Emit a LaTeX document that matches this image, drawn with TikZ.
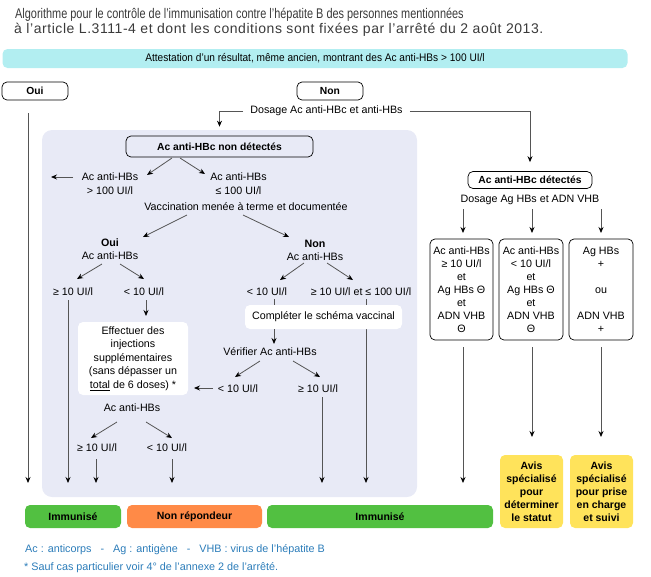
\documentclass[tikz,border=0pt]{standalone}
\usepackage{fontspec}
\setmainfont{Liberation Sans}
\newfontfamily\titlefont[FakeStretch=0.78]{Liberation Sans}
\newfontfamily\spacedfont[LetterSpace=4.0]{Liberation Sans}
\newfontfamily\condfont[FakeStretch=0.92]{Liberation Sans}
\usetikzlibrary{positioning,arrows.meta}
\definecolor{hbpanel}{HTML}{E8EAF6}
\definecolor{hbcyan}{HTML}{B2EEF1}
\definecolor{hbgreen}{HTML}{52C041}
\definecolor{hborange}{HTML}{FF8A47}
\definecolor{hbyellow}{HTML}{FFE35B}
\definecolor{hbblue}{HTML}{2B7CB9}
\definecolor{hbtitle}{HTML}{3A3A3A}
\definecolor{hbline}{HTML}{555555}

\begin{document}
\begin{tikzpicture}[x=1pt, y=-1pt,
   lbl/.style={align=center, inner sep=1pt, font=\fontsize{10.7}{14}\selectfont},
   decision/.style={draw, rounded corners=5pt, line width=0.7pt, fill=hbpanel,
                    inner sep=0pt, font=\fontsize{10.3}{12}\selectfont\bfseries},
   answer/.style={draw, rounded corners=5pt, line width=0.7pt, fill=white, minimum width=66pt,
                  minimum height=18pt, inner sep=0pt, font=\fontsize{10.3}{12}\selectfont\bfseries},
   note/.style={fill=white, rounded corners=5pt, align=center, inner sep=0pt,
                font=\fontsize{10.7}{13.5}\selectfont},
   casebox/.style={draw, rounded corners=5pt, line width=0.7pt, minimum width=64pt, minimum height=101pt,
                   inner sep=0pt, align=center, font=\fontsize{10.7}{13}\selectfont},
   result/.style={rounded corners=5pt, minimum height=23pt, inner sep=0pt,
                  font=\fontsize{10.5}{13}\selectfont\bfseries},
   avis/.style={fill=hbyellow, rounded corners=5pt, minimum width=63pt, minimum height=73pt,
                inner sep=0pt, align=center, font=\fontsize{10.5}{13}\selectfont\bfseries},
   flow/.style={->, draw=hbline, line width=0.8pt},
   >={Stealth[length=6pt, width=5pt, color=black]}]
  \useasboundingbox (0,0) rectangle (651,576);

  % heading
  \node[anchor=base west, inner sep=0pt, text=hbtitle, font=\fontsize{14}{16}\titlefont] (title1) at (15,18.3)
    {Algorithme pour le contrôle de l’immunisation contre l’hépatite B des personnes mentionnées};
  \node[anchor=base west, inner sep=0pt, text=hbtitle, font=\fontsize{14}{16}\spacedfont] (title2) at (14,33.5)
    {à l’article L.3111-4 et dont les conditions sont fixées par l’arrêté du 2 août 2013.};
  \node[fill=hbcyan, rounded corners=5pt, minimum width=625pt, minimum height=19pt, inner sep=0pt,
        font=\fontsize{11}{13}\condfont] (attest) at (315,58.5)
    {Attestation d’un résultat, même ancien, montrant des Ac anti-HBs > 100 UI/l};
  \node[answer] (oui) at (35,91) {Oui};
  \node[answer] (non) at (330,91) {Non};
  \node[lbl, inner sep=7pt] (dosage) at (326.5,111) {Dosage Ac anti-HBc et anti-HBs};

  % outcomes
  \node[result, fill=hbgreen, minimum width=96pt] (imm1) at (73,516.5) {Immunisé};
  \node[result, fill=hborange, minimum width=135pt] (nonrep) at (194.5,516.5) {Non répondeur};
  \node[result, fill=hbgreen, minimum width=226pt] (imm2) at (380,516.5) {Immunisé};
  \node[avis] (avis1) at (531.5,491.5) {Avis\\spécialisé\\pour\\déterminer\\le statut};
  \node[avis] (avis2) at (601.5,491.5) {Avis\\spécialisé\\pour prise\\en charge\\et suivi};

  % Ac anti-HBc non detectes
  \fill[hbpanel, rounded corners=10pt] (42,130) rectangle (417,497);
  \node[decision, minimum width=187pt, minimum height=21pt] (hbcno) at (219.5,146.5) {Ac anti-HBc non détectés};
  \node[lbl] (hbshigh) at (110,184) {Ac anti-HBs\\> 100 UI/l};
  \node[lbl] (hbslow) at (238.5,184) {Ac anti-HBs\\≤ 100 UI/l};
  \node[lbl] (vacc) at (246,207) {Vaccination menée à terme et documentée};
  \node[lbl, font=\fontsize{10.7}{12.5}\selectfont] (oui2) at (110,249) {\textbf{Oui}\\Ac anti-HBs};
  \node[lbl, font=\fontsize{10.7}{13}\selectfont] (non2) at (315,250) {\textbf{Non}\\Ac anti-HBs};
  \node[lbl] (a1ge) at (73,292) {≥ 10 UI/l};
  \node[lbl] (a1lt) at (144,292) {< 10 UI/l};
  \node[note, minimum width=110pt, minimum height=73pt] (effect) at (133,358.5)
    {Effectuer des\\injections\\supplémentaires\\(sans dépasser un\\\underline{total} de 6 doses) *};
  \node[lbl] (hbs3) at (132,408) {Ac anti-HBs};
  \node[lbl] (d4ge) at (97,448) {≥ 10 UI/l};
  \node[lbl] (d4lt) at (167,448) {< 10 UI/l};
  \node[lbl] (b2lt) at (267,292) {< 10 UI/l};
  \node[lbl] (b2mid) at (361,292) {≥ 10 UI/l et ≤ 100 UI/l};
  \draw[flow] ([xshift=5pt,yshift=-7pt]b2mid.center) -- ([xshift=-14pt,yshift=33.5pt]imm2.center);
  \node[note, minimum width=157pt, minimum height=24pt] (compl) at (323.5,317) {Compléter le schéma vaccinal};
  \node[lbl] (verif) at (270,352) {Vérifier Ac anti-HBs};
  \node[lbl] (c3lt) at (238,389) {< 10 UI/l};
  \node[lbl] (c3ge) at (318,389) {≥ 10 UI/l};
  \coordinate (hbsout) at (51,177);

  % Ac anti-HBc detectes
  \node[decision, fill=white, minimum width=124pt, minimum height=17pt] (hbcyes) at (530,180) {Ac anti-HBc détectés};
  \node[lbl] (dosage2) at (530,200) {Dosage Ag HBs et ADN VHB};
  \node[casebox, minimum width=63pt] (r1) at (461.5,289.5) {Ac anti-HBs\\≥ 10 UI/l\\et\\Ag HBs Θ\\et\\ADN VHB\\Θ};
  \node[casebox] (r2) at (531,289.5) {Ac anti-HBs\\< 10 UI/l\\et\\Ag HBs Θ\\et\\ADN VHB\\Θ};
  \node[casebox] (r3) at (601,289.5) {Ag HBs\\+\\[13pt]ou\\[13pt]ADN VHB\\+};

  % legend
  \node[anchor=base west, inner sep=0pt, text=hbblue, font=\fontsize{10.8}{13}\selectfont] (legend1) at (25,552)
    {Ac : anticorps\hspace{9pt}-\hspace{9pt}Ag : antigène\hspace{9pt}-\hspace{9pt}VHB : virus de l’hépatite B};
  \node[anchor=base west, inner sep=0pt, text=hbblue, font=\fontsize{10.8}{13}\selectfont] (legend2) at (24,570)
    {* Sauf cas particulier voir 4° de l’annexe 2 de l’arrêté.};

  % connectors
  \draw[flow] ([xshift=-7pt,yshift=-22pt]oui.center) -- ([xshift=-45pt,yshift=33.5pt]imm1.center);
  \draw[flow, shorten >=9pt] (dosage.west) -| (hbcno.north);
  \draw[flow, shorten >=9pt] (dosage.east) -| (hbcyes.north);
  \draw[flow] ([xshift=-47.5pt,yshift=-11.5pt]hbcno.center) -- ([xshift=37pt,yshift=9pt]hbshigh.center);
  \draw[flow] ([xshift=-39.5pt,yshift=-11.5pt]hbcno.center) -- ([xshift=-33.5pt,yshift=10pt]hbslow.center);
  \draw[flow] ([xshift=-37pt,yshift=7pt]hbshigh.center) -- (hbsout);
  \draw[flow] ([xshift=-59pt,yshift=-8pt]vacc.center) -- ([xshift=33pt,yshift=12pt]oui2.center);
  \draw[flow] ([xshift=-3pt,yshift=-8pt]vacc.center) -- ([xshift=-26pt,yshift=13pt]non2.center);
  \draw[flow] ([xshift=-8pt,yshift=-15pt]oui2.center) -- ([xshift=4pt,yshift=13pt]a1ge.center);
  \draw[flow] ([xshift=10pt,yshift=-15pt]oui2.center) -- ([xshift=0pt,yshift=13pt]a1lt.center);
  \draw[flow] ([xshift=-11pt,yshift=-13pt]non2.center) -- ([xshift=13pt,yshift=12pt]b2lt.center);
  \draw[flow] ([xshift=12pt,yshift=-13pt]non2.center) -- ([xshift=-8pt,yshift=12pt]b2mid.center);
  \draw[flow] ([xshift=-5pt,yshift=-8pt]a1ge.center) -- ([xshift=-5pt,yshift=33.5pt]imm1.center);
  \draw[flow] ([xshift=2pt,yshift=-8pt]a1lt.center) -- ([xshift=13pt,yshift=42.5pt]effect.center);
  \draw[flow] ([xshift=-25pt,yshift=1pt]c3lt.center) -- ([xshift=61pt,yshift=-29.5pt]effect.center);
  \draw[flow] ([xshift=-15pt,yshift=-14pt]hbs3.center) -- ([xshift=-6pt,yshift=10pt]d4ge.center);
  \draw[flow] ([xshift=14pt,yshift=-14pt]hbs3.center) -- ([xshift=5pt,yshift=10pt]d4lt.center);
  \draw[flow] ([xshift=-1pt,yshift=-11pt]d4ge.center) -- ([xshift=23pt,yshift=33.5pt]imm1.center);
  \draw[flow] ([xshift=5pt,yshift=-11pt]d4lt.center) -- ([xshift=-22.5pt,yshift=33.5pt]nonrep.center);
  \draw[flow, -] ([xshift=7pt,yshift=-7pt]b2lt.center) -- ([xshift=-49.5pt,yshift=12pt]compl.center);
  \draw[flow] ([xshift=-49.5pt,yshift=-12pt]compl.center) -- ([xshift=4pt,yshift=8pt]verif.center);
  \draw[flow] ([xshift=-10pt,yshift=-9pt]verif.center) -- ([xshift=-3pt,yshift=12pt]c3lt.center);
  \draw[flow] ([xshift=23pt,yshift=-9pt]verif.center) -- ([xshift=2pt,yshift=12pt]c3ge.center);
  \draw[flow] ([xshift=4pt,yshift=-8pt]c3ge.center) -- ([xshift=-58pt,yshift=33.5pt]imm2.center);
  \draw[flow] ([xshift=-67pt,yshift=-9pt]dosage2.center) -- ([xshift=1.5pt,yshift=56.5pt]r1.center);
  \draw[flow] ([xshift=2pt,yshift=-9pt]dosage2.center) -- ([xshift=1pt,yshift=56.5pt]r2.center);
  \draw[flow] ([xshift=71pt,yshift=-9pt]dosage2.center) -- ([xshift=0pt,yshift=56.5pt]r3.center);
  \draw[flow] ([xshift=1.5pt,yshift=-57.5pt]r1.center) -- ([xshift=83pt,yshift=33.5pt]imm2.center);
  \draw[flow] ([xshift=1pt,yshift=-57.5pt]r2.center) -- ([xshift=0.5pt,yshift=54.5pt]avis1.center);
  \draw[flow] ([xshift=0pt,yshift=-57.5pt]r3.center) -- ([xshift=-0.5pt,yshift=54.5pt]avis2.center);
\end{tikzpicture}
\end{document}
